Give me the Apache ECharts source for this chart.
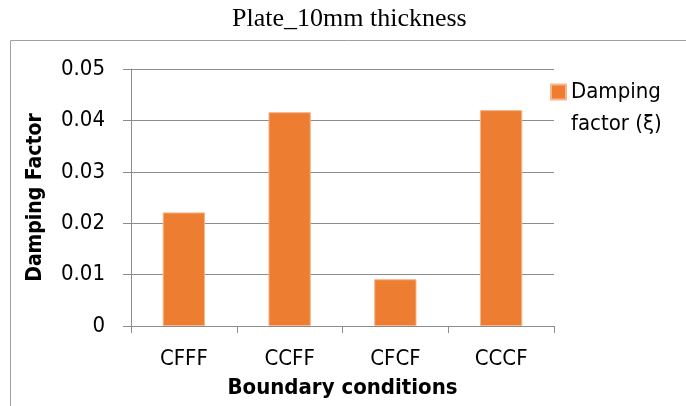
<!DOCTYPE html>
<html>
<head>
<meta charset="utf-8">
<script src="https://cdn.jsdelivr.net/npm/echarts@6/dist/echarts.min.js"></script>
<style>
  html, body { margin: 0; padding: 0; background: #fff; }
  #chart { width: 686px; height: 406px; }
</style>
</head>
<body>
<div id="chart"></div>
<script>
// values
const categories = ['CFFF', 'CCFF', 'CFCF', 'CCCF']
const dampingValues = [0.0221, 0.0416, 0.0091, 0.0420]
const seriesName = 'Damping\nfactor (ξ)'

const narrow = '"DejaVu Sans Condensed", "Liberation Sans Narrow", sans-serif'

const chart = echarts.init(document.getElementById('chart'))

const option = {
  animation: false,
  title: {
    text: 'Plate_10mm thickness',
    left: 232,
    top: 6,
    padding: 0,
    textStyle: {
      fontFamily: '"Liberation Serif", "Times New Roman", serif',
      fontSize: 26,
      fontWeight: 'normal',
      color: '#000'
    }
  },
  // outer frame of the chart area
  graphic: [{
    type: 'rect',
    shape: { x: 10.5, y: 40.5, width: 700, height: 400 },
    style: { fill: 'none', stroke: '#a0a0a0', lineWidth: 1 },
    silent: true
  }],
  legend: {
    left: 550,
    top: 44,
    padding: 0,
    orient: 'vertical',
    itemWidth: 15,
    itemHeight: 15,
    icon: 'rect',
    // blank first line so the square sits level with "Damping"
    formatter: name => '\n' + name,
    textStyle: {
      fontFamily: narrow,
      fontSize: 22,
      color: '#000',
      lineHeight: 32
    },
    data: [seriesName]
  },
  grid: {
    left: 131,
    right: 132,
    top: 69,
    bottom: 80
  },
  xAxis: {
    type: 'category',
    data: categories,
    name: 'Boundary conditions',
    nameLocation: 'middle',
    nameGap: 51,
    nameTextStyle: {
      fontFamily: narrow,
      fontSize: 22,
      fontWeight: 'bold',
      color: '#000'
    },
    axisLine: { lineStyle: { color: '#8c8c8c', width: 1 } },
    axisTick: { show: true, length: 7, lineStyle: { color: '#8c8c8c' } },
    axisLabel: {
      fontFamily: narrow,
      fontSize: 22,
      color: '#000',
      margin: 22
    }
  },
  yAxis: {
    type: 'value',
    min: 0,
    max: 0.05,
    interval: 0.01,
    name: 'Damping Factor',
    nameLocation: 'middle',
    nameGap: 85,
    nameTextStyle: {
      fontFamily: narrow,
      fontSize: 21,
      fontWeight: 'bold',
      color: '#000'
    },
    axisLine: { show: true, lineStyle: { color: '#8c8c8c', width: 1 } },
    axisTick: { show: true, length: 8, lineStyle: { color: '#8c8c8c' } },
    axisLabel: {
      fontFamily: narrow,
      fontSize: 22,
      color: '#000',
      margin: 26,
      formatter: v => (v === 0 ? '0' : v.toFixed(2))
    },
    splitLine: { lineStyle: { color: '#8c8c8c', width: 1 } }
  },
  series: [{
    name: seriesName,
    type: 'bar',
    data: dampingValues,
    barCategoryGap: '60%',
    itemStyle: { color: '#ed7d31', borderColor: '#f6b58c', borderWidth: 1 }
  }]
}

chart.setOption(option)
</script>
</body>
</html>
